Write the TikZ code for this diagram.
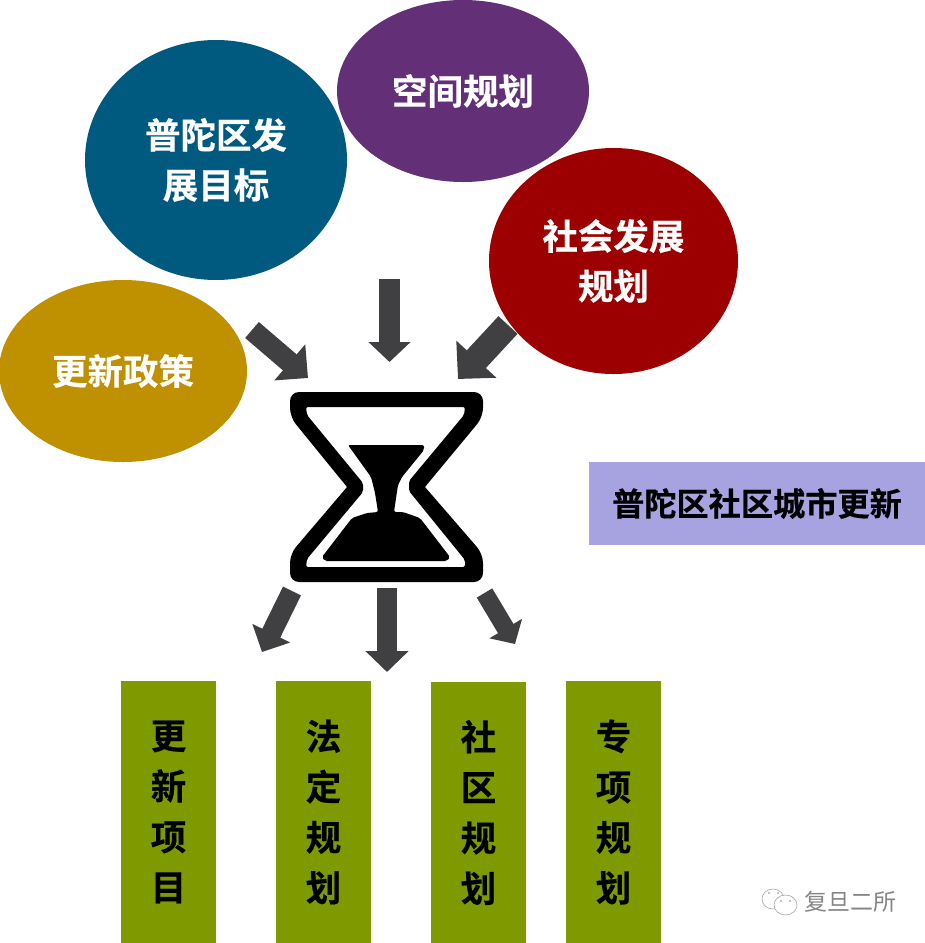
\documentclass[tikz,border=0pt]{standalone}
\usepackage{fontspec}
\newfontfamily\cjkb[FakeBold=0.5]{Noto Sans CJK SC Bold}
\newfontfamily\cjkr{Noto Sans CJK SC}
\usetikzlibrary{shapes.geometric,arrows.meta}
\definecolor{cblue}{HTML}{005A80}
\definecolor{cpurple}{HTML}{632F77}
\definecolor{cred}{HTML}{9C0000}
\definecolor{cgold}{HTML}{BF9000}
\definecolor{colive}{HTML}{7F9900}
\definecolor{clav}{HTML}{A7A2E0}
\definecolor{carrow}{HTML}{404042}
\tikzset{
  bubble/.style={ellipse,inner sep=0pt,text=white,align=center,font=\cjkb\fontsize{35.5}{50}\selectfont},
  barbox/.style={rectangle,fill=colive,draw=none,inner sep=0pt,minimum width=95pt,text=black,align=center,font=\cjkb\fontsize{35.5}{50.5}\selectfont},
  blockarrow/.style n args={3}{draw=carrow,line width=#1pt,-{Triangle[length=#2pt,width=#3pt,fill=carrow]}},
}
\begin{document}
\begin{tikzpicture}[x=1pt,y=-1pt]
\useasboundingbox (0,0) rectangle (925,943);
\fill[white] (0,0) rectangle (925,943);
\node[bubble,fill=cblue,minimum width=262pt,minimum height=240pt] (goal) at (216,160) {普陀区发\\展目标};
\node[bubble,fill=cpurple,minimum width=252pt,minimum height=182pt] (space) at (463,91) {空间规划};
\node[bubble,fill=cred,minimum width=249pt,minimum height=226pt] (social) at (613.5,261) {社会发展\\规划};
\node[bubble,fill=cgold,minimum width=248pt,minimum height=182pt] (policy) at (123,371) {更新政策};
\node[rectangle,fill=clav,inner sep=0pt,minimum width=336pt,minimum height=83pt,text=black,font=\cjkb\fontsize{32.2}{36}\selectfont] (label) at (757,503.5) {普陀区社区城市更新};
\node[barbox,minimum height=262pt] (b1) at (168.5,812) {更\\新\\项\\目};
\node[barbox,minimum height=262pt] (b2) at (323.5,812) {法\\定\\规\\划};
\node[barbox,minimum height=261pt] (b3) at (478.5,812.5) {社\\区\\规\\划};
\node[barbox,minimum height=262pt] (b4) at (613.5,812) {专\\项\\规\\划};
% hourglass
\fill[black,even odd rule]
 [rounded corners=9pt] (386,392) -- (483,392) -- (483,417) [sharp corners] -- (425,487) [rounded corners=9pt] -- (483,554) -- (483,582) -- (290,582) -- (290,554) [sharp corners] -- (347,487) [rounded corners=9pt] -- (290,417) -- (290,392) -- cycle
 [rounded corners=2pt] (306,407) -- (465,407) -- (464,415) -- (409,481) -- (409,491) -- (465,560) -- (465,567) -- (306,567) -- (307,559) -- (363,492) -- (363,483) -- (307,415) -- cycle;
\fill[black,rounded corners=2pt]
 (348,445) -- (424,445) -- (424,450) -- (402,477) -- (398,485) -- (394,512) -- (403,512) -- (420,518) -- (450,557) -- (447,561) -- (325,561) -- (322,557) -- (352,518) -- (367,513) -- (378,512) -- (375,493) -- (371,477) -- cycle;
% arrows
\coordinate (t1) at (252,330); \coordinate (h1) at (308,378);
\coordinate (t2) at (389.5,279); \coordinate (h2) at (389.5,362);
\coordinate (t3) at (508,325); \coordinate (h3) at (458,379);
\coordinate (t4) at (292,591); \coordinate (h4) at (262,652);
\coordinate (t5) at (387,588); \coordinate (h5) at (387,672);
\coordinate (t6) at (484.5,593); \coordinate (h6) at (515,644);
\draw[blockarrow={21}{24}{46}] (t1) -- (h1);
\draw[blockarrow={21}{20}{41}] (t2) -- (h2);
\draw[blockarrow={26}{27}{53}] (t3) -- (h3);
\draw[blockarrow={20}{21}{41}] (t4) -- (h4);
\draw[blockarrow={20}{21}{42}] (t5) -- (h5);
\draw[blockarrow={18}{18}{37}] (t6) -- (h6);
% watermark
\node[text=black!48,font=\cjkr\fontsize{23}{26}\selectfont,inner sep=0pt] (wm) at (850,902) {复旦二所};
\draw[black!35,line width=0.6pt,fill=white] (773,899) ellipse (11pt and 10pt);
\draw[black!35,line width=0.6pt,fill=white] (785.5,905) ellipse (11.5pt and 10pt);
\fill[black!45] (781,901) circle (0.9pt) (790,901) circle (0.9pt) (769,893) circle (0.9pt) (778,893) circle (0.9pt);
\end{tikzpicture}
\end{document}
